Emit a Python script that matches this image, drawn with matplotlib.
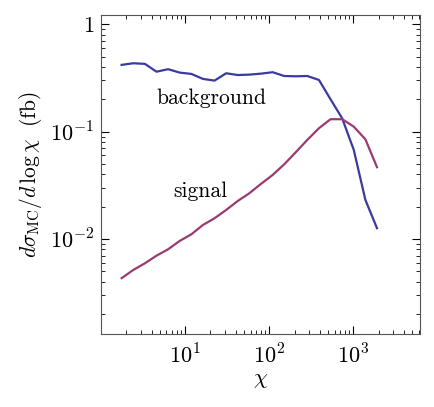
import matplotlib
matplotlib.use("Agg")
import matplotlib.pyplot as plt
from matplotlib.ticker import LogLocator, NullFormatter

plt.rcParams['mathtext.fontset'] = 'cm'
plt.rcParams['font.family'] = 'serif'
plt.rcParams['font.serif'] = ['cmr10', 'DejaVu Serif']
plt.rcParams['axes.formatter.use_mathtext'] = True

chi = [1.76, 2.42, 3.33, 4.57, 6.28, 8.63, 11.9, 16.3, 22.4, 30.8, 42.3, 58.1,
       79.8, 110, 151, 207, 284, 391, 537, 738, 1014, 1393, 1914]
background = [0.419, 0.434, 0.428, 0.362, 0.382, 0.355, 0.345, 0.310, 0.299,
              0.350, 0.337, 0.340, 0.347, 0.358, 0.330, 0.328, 0.330, 0.303,
              0.200, 0.133, 0.0675, 0.0231, 0.0126]
signal = [0.00431, 0.00514, 0.00593, 0.00698, 0.00801, 0.00958, 0.01106, 0.0135,
          0.01558, 0.01862, 0.02259, 0.02666, 0.03258, 0.03948, 0.04963, 0.06427,
          0.08375, 0.1076, 0.1306, 0.1306, 0.1113, 0.0849, 0.0466]

fig = plt.figure(figsize=(4.35, 4.07), dpi=100)
ax = fig.add_axes([101/435, 1 - 334/407, (420.5 - 101)/435, (334 - 14.7)/407])

ax.plot(chi, background, color='#3a3aa0', lw=1.6)
ax.plot(chi, signal, color='#9a3a70', lw=1.6)

ax.set_xscale('log')
ax.set_yscale('log')
ax.set_xlim(1.0, 6300)
ax.set_ylim(1.3e-3, 1.23)

ax.annotate('background', xy=(0.345, 0.738), xycoords='axes fraction',
            fontsize=15.5, ha='center', va='center')
ax.annotate('signal', xy=(0.31, 0.448), xycoords='axes fraction', fontsize=15.5,
            ha='center', va='center')

ax.set_xticks([10, 100, 1000])
ax.set_xticklabels([r'$10^{1}$', r'$10^{2}$', r'$10^{3}$'])
ax.set_yticks([0.01, 0.1, 1])
ax.set_yticklabels([r'$10^{-2}$', r'$10^{-1}$', r'$1$'])
ax.xaxis.set_minor_locator(LogLocator(base=10, subs=range(2, 10), numticks=20))
ax.yaxis.set_minor_locator(LogLocator(base=10, subs=range(2, 10), numticks=20))
ax.xaxis.set_minor_formatter(NullFormatter())
ax.yaxis.set_minor_formatter(NullFormatter())
ax.tick_params(which='both', direction='in', top=True, right=True, labelsize=16)
ax.tick_params(which='major', length=6, width=0.8)
ax.tick_params(which='minor', length=3, width=0.6)
ax.tick_params(axis='x', which='major', pad=7)
ax.tick_params(axis='y', which='major', pad=5)
for s in ax.spines.values():
    s.set_color('#555555')

ax.set_xlabel(r'$\chi$', fontsize=16, labelpad=2)
ax.set_ylabel(r'$d\sigma_{\rm MC}/d\,\log\chi\ \ (\mathrm{fb})$', fontsize=15.5, labelpad=4)

fig.savefig('out.png', dpi=100)
